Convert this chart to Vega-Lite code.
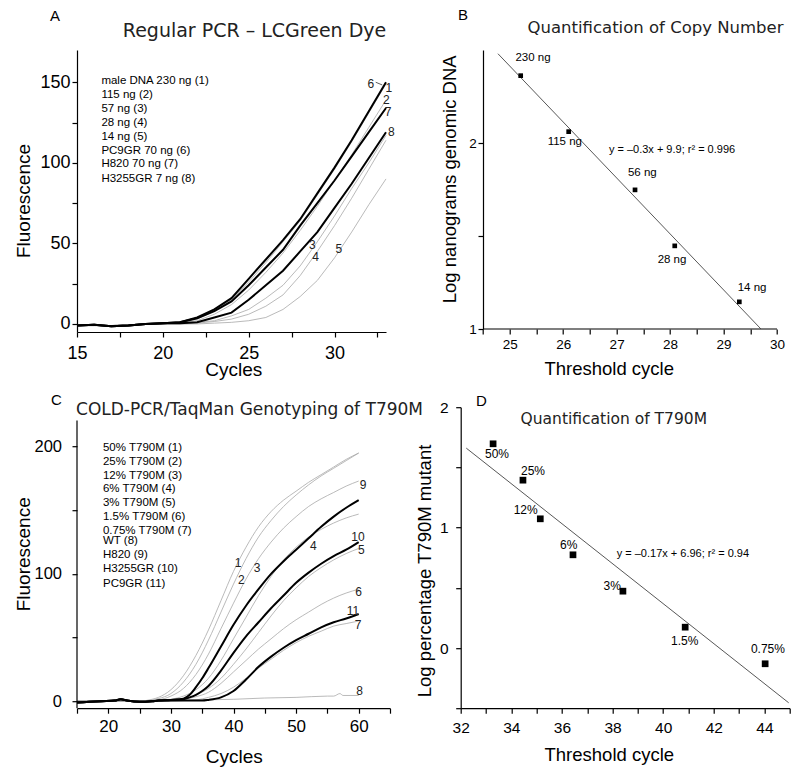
{
"$schema": "https://vega.github.io/schema/vega-lite/v6.json",
"background": "white",
"padding": {"left": 14, "top": 8, "right": 4, "bottom": 4},
"config": {
  "view": {"stroke": null},
  "font": "Liberation Sans",
  "axis": {"grid": false, "domainColor": "#000", "domainWidth": 1.2, "tickColor": "#000", "tickWidth": 1.2, "tickSize": 5, "labelColor": "#000", "titleColor": "#000", "labelFont": "Liberation Sans", "titleFont": "Liberation Sans", "titleFontWeight": "normal", "labelOverlap": false, "labelFlush": false, "titleBaseline": "alphabetic", "titleAlign": "center"},
  "text": {"font": "Liberation Sans", "color": "#000"}
},
"datasets": {
  "a_bold": [
    {"s":"6","x":15,"y":-1},{"s":"6","x":16,"y":-0.5},{"s":"6","x":17,"y":-1.5},{"s":"6","x":18,"y":-1},{"s":"6","x":19,"y":0},{"s":"6","x":20,"y":0.5},{"s":"6","x":21,"y":1},{"s":"6","x":22,"y":4},{"s":"6","x":23,"y":9},{"s":"6","x":24,"y":16},{"s":"6","x":25,"y":28},{"s":"6","x":26,"y":40},{"s":"6","x":27,"y":52},{"s":"6","x":28,"y":65},{"s":"6","x":29,"y":81},{"s":"6","x":30,"y":97},{"s":"6","x":31,"y":114},{"s":"6","x":32,"y":132},{"s":"6","x":33,"y":150},
    {"s":"7","x":15,"y":-1},{"s":"7","x":16,"y":-0.5},{"s":"7","x":17,"y":-1.5},{"s":"7","x":18,"y":-1},{"s":"7","x":19,"y":0},{"s":"7","x":20,"y":0.5},{"s":"7","x":21,"y":1},{"s":"7","x":22,"y":3.5},{"s":"7","x":23,"y":8},{"s":"7","x":24,"y":14},{"s":"7","x":25,"y":24},{"s":"7","x":26,"y":35},{"s":"7","x":27,"y":46},{"s":"7","x":28,"y":61},{"s":"7","x":29,"y":75},{"s":"7","x":30,"y":89},{"s":"7","x":31,"y":104},{"s":"7","x":32,"y":119},{"s":"7","x":33,"y":134},
    {"s":"8","x":15,"y":-1},{"s":"8","x":16,"y":-0.5},{"s":"8","x":17,"y":-1.5},{"s":"8","x":18,"y":-1},{"s":"8","x":19,"y":0},{"s":"8","x":20,"y":0.5},{"s":"8","x":21,"y":0.5},{"s":"8","x":22,"y":1},{"s":"8","x":23,"y":4},{"s":"8","x":24,"y":7},{"s":"8","x":25,"y":15},{"s":"8","x":26,"y":24},{"s":"8","x":27,"y":33},{"s":"8","x":28,"y":45},{"s":"8","x":29,"y":57},{"s":"8","x":30,"y":72},{"s":"8","x":31,"y":87},{"s":"8","x":32,"y":103},{"s":"8","x":33,"y":119}
  ],
  "a_thin": [
    {"s":"1","x":15,"y":-1},{"s":"1","x":16,"y":-1},{"s":"1","x":17,"y":-1},{"s":"1","x":18,"y":-0.5},{"s":"1","x":19,"y":0},{"s":"1","x":20,"y":0.5},{"s":"1","x":21,"y":1},{"s":"1","x":22,"y":3},{"s":"1","x":23,"y":8},{"s":"1","x":24,"y":15},{"s":"1","x":25,"y":26},{"s":"1","x":26,"y":38},{"s":"1","x":27,"y":51},{"s":"1","x":28,"y":64},{"s":"1","x":29,"y":80},{"s":"1","x":30,"y":96},{"s":"1","x":31,"y":113},{"s":"1","x":32,"y":131},{"s":"1","x":33,"y":149},
    {"s":"2","x":15,"y":-1},{"s":"2","x":16,"y":-1},{"s":"2","x":17,"y":-1},{"s":"2","x":18,"y":-0.5},{"s":"2","x":19,"y":0},{"s":"2","x":20,"y":0.5},{"s":"2","x":21,"y":1},{"s":"2","x":22,"y":2},{"s":"2","x":23,"y":6},{"s":"2","x":24,"y":12},{"s":"2","x":25,"y":21},{"s":"2","x":26,"y":32},{"s":"2","x":27,"y":44},{"s":"2","x":28,"y":58},{"s":"2","x":29,"y":73},{"s":"2","x":30,"y":89},{"s":"2","x":31,"y":105},{"s":"2","x":32,"y":122},{"s":"2","x":33,"y":139},
    {"s":"3","x":15,"y":-1},{"s":"3","x":16,"y":-1},{"s":"3","x":17,"y":-1},{"s":"3","x":18,"y":-0.5},{"s":"3","x":19,"y":0},{"s":"3","x":20,"y":0},{"s":"3","x":21,"y":0.5},{"s":"3","x":22,"y":1},{"s":"3","x":23,"y":2},{"s":"3","x":24,"y":5},{"s":"3","x":25,"y":9},{"s":"3","x":26,"y":16},{"s":"3","x":27,"y":24},{"s":"3","x":28,"y":36},{"s":"3","x":29,"y":51},{"s":"3","x":30,"y":67},{"s":"3","x":31,"y":84},{"s":"3","x":32,"y":100},{"s":"3","x":33,"y":117},
    {"s":"4","x":15,"y":-1},{"s":"4","x":16,"y":-1},{"s":"4","x":17,"y":-1},{"s":"4","x":18,"y":-0.5},{"s":"4","x":19,"y":0},{"s":"4","x":20,"y":0},{"s":"4","x":21,"y":0},{"s":"4","x":22,"y":0.5},{"s":"4","x":23,"y":1.5},{"s":"4","x":24,"y":3},{"s":"4","x":25,"y":6},{"s":"4","x":26,"y":11},{"s":"4","x":27,"y":18},{"s":"4","x":28,"y":30},{"s":"4","x":29,"y":45},{"s":"4","x":30,"y":61},{"s":"4","x":31,"y":78},{"s":"4","x":32,"y":96},{"s":"4","x":33,"y":114},
    {"s":"5","x":15,"y":-1},{"s":"5","x":16,"y":-1},{"s":"5","x":17,"y":-1},{"s":"5","x":18,"y":-0.5},{"s":"5","x":19,"y":0},{"s":"5","x":20,"y":0},{"s":"5","x":21,"y":0},{"s":"5","x":22,"y":0},{"s":"5","x":23,"y":0.5},{"s":"5","x":24,"y":1},{"s":"5","x":25,"y":2},{"s":"5","x":26,"y":4},{"s":"5","x":27,"y":9},{"s":"5","x":28,"y":17},{"s":"5","x":29,"y":27},{"s":"5","x":30,"y":41},{"s":"5","x":31,"y":57},{"s":"5","x":32,"y":74},{"s":"5","x":33,"y":90}
  ],
  "a_lead": [{"x":32.4,"y":150,"x2":32.78,"y2":148.3}],
  "a_lab": [
    {"x":32.11,"y":149.0,"t":"6"},{"x":33.16,"y":146.5,"t":"1"},{"x":33.02,"y":138.7,"t":"2"},{"x":33.12,"y":131.4,"t":"7"},{"x":33.31,"y":119.0,"t":"8"},{"x":28.71,"y":49.1,"t":"3"},{"x":28.9,"y":41.4,"t":"4"},{"x":30.26,"y":46.6,"t":"5"}
  ],
  "a_leg": [
    {"x":16.42,"y":150.6,"t":"male DNA 230 ng (1)"},{"x":16.42,"y":142.2,"t":"115 ng (2)"},{"x":16.42,"y":133.5,"t":"57 ng (3)"},{"x":16.42,"y":124.8,"t":"28 ng (4)"},{"x":16.42,"y":115.9,"t":"14 ng (5)"},{"x":16.42,"y":107.6,"t":"PC9GR 70 ng (6)"},{"x":16.42,"y":99.0,"t":"H820 70 ng (7)"},{"x":16.42,"y":90.1,"t":"H3255GR 7 ng (8)"}
  ],
  "a_title": [{"x":25.34,"y":177.8,"t":"Regular PCR – LCGreen Dye"}],
  "a_letter": [{"x":13.43,"y":188.3,"t":"A"}],
  "b_axis": [{"x":24.5,"x2":30,"y":1}],
  "b_fit": [{"x":24.78,"y":2.48},{"x":29.7,"y":1.0}],
  "b_pts": [{"x":25.205,"y":2.362},{"x":26.103,"y":2.061},{"x":27.344,"y":1.748},{"x":28.087,"y":1.447},{"x":29.295,"y":1.146}],
  "b_lab": [{"x":25.435,"y":2.458,"t":"230 ng"},{"x":26.03,"y":2.004,"t":"115 ng"},{"x":27.48,"y":1.838,"t":"56 ng"},{"x":28.036,"y":1.372,"t":"28 ng"},{"x":29.533,"y":1.222,"t":"14 ng"}],
  "b_eq": [{"x":28.036,"y":1.965,"t":"y = –0.3x + 9.9; r² = 0.996"}],
  "b_title": [{"x":27.727,"y":2.589,"t":"Quantification of Copy Number"}],
  "b_letter": [{"x":24.032,"y":2.659,"t":"B"}],
  "c_bold": [
    {"s":"9","x":15,"y":-1},{"s":"9","x":17,"y":-0.5},{"s":"9","x":19,"y":0},{"s":"9","x":21,"y":0.5},{"s":"9","x":22,"y":1.5},{"s":"9","x":23,"y":0.5},{"s":"9","x":25,"y":-0.5},{"s":"9","x":27,"y":0},{"s":"9","x":28,"y":0.5},{"s":"9","x":30,"y":1},{"s":"9","x":31,"y":1.5},{"s":"9","x":32,"y":2},{"s":"9","x":33,"y":5},{"s":"9","x":34,"y":11},{"s":"9","x":35,"y":18},{"s":"9","x":36,"y":26},{"s":"9","x":38,"y":43},{"s":"9","x":40,"y":60},{"s":"9","x":42,"y":75},{"s":"9","x":44,"y":88},{"s":"9","x":46,"y":100},{"s":"9","x":48,"y":110},{"s":"9","x":50,"y":119},{"s":"9","x":52,"y":128},{"s":"9","x":54,"y":137},{"s":"9","x":56,"y":145},{"s":"9","x":58,"y":152},{"s":"9","x":60,"y":158},
    {"s":"10","x":15,"y":-1},{"s":"10","x":17,"y":-0.5},{"s":"10","x":19,"y":0},{"s":"10","x":21,"y":0.5},{"s":"10","x":22,"y":1.5},{"s":"10","x":23,"y":0.5},{"s":"10","x":25,"y":-0.5},{"s":"10","x":27,"y":0},{"s":"10","x":28,"y":0.5},{"s":"10","x":30,"y":1},{"s":"10","x":31,"y":1},{"s":"10","x":32,"y":1.5},{"s":"10","x":33,"y":3},{"s":"10","x":34,"y":5},{"s":"10","x":35,"y":8},{"s":"10","x":36,"y":12},{"s":"10","x":38,"y":24},{"s":"10","x":40,"y":38},{"s":"10","x":42,"y":51},{"s":"10","x":44,"y":62},{"s":"10","x":46,"y":73},{"s":"10","x":48,"y":83},{"s":"10","x":50,"y":93},{"s":"10","x":52,"y":101},{"s":"10","x":54,"y":108},{"s":"10","x":56,"y":114},{"s":"10","x":58,"y":119},{"s":"10","x":60,"y":125},
    {"s":"11","x":15,"y":-1},{"s":"11","x":17,"y":-0.5},{"s":"11","x":19,"y":0},{"s":"11","x":21,"y":0.5},{"s":"11","x":22,"y":1.5},{"s":"11","x":23,"y":0.5},{"s":"11","x":25,"y":-0.5},{"s":"11","x":27,"y":0},{"s":"11","x":28,"y":0.5},{"s":"11","x":30,"y":0.5},{"s":"11","x":31,"y":0.5},{"s":"11","x":32,"y":0.5},{"s":"11","x":33,"y":0.5},{"s":"11","x":34,"y":0.5},{"s":"11","x":35,"y":0.5},{"s":"11","x":36,"y":1},{"s":"11","x":38,"y":3},{"s":"11","x":40,"y":8},{"s":"11","x":42,"y":17},{"s":"11","x":44,"y":27},{"s":"11","x":46,"y":35},{"s":"11","x":48,"y":42},{"s":"11","x":50,"y":48},{"s":"11","x":52,"y":53},{"s":"11","x":54,"y":58},{"s":"11","x":56,"y":62},{"s":"11","x":58,"y":65},{"s":"11","x":60,"y":68.5}
  ],
  "c_thin": [
    {"s":"1","x":15,"y":0},{"s":"1","x":20,"y":0},{"s":"1","x":25,"y":0},{"s":"1","x":26,"y":0.5},{"s":"1","x":27,"y":1.5},{"s":"1","x":28,"y":3},{"s":"1","x":30,"y":9},{"s":"1","x":32,"y":20},{"s":"1","x":34,"y":36},{"s":"1","x":36,"y":56},{"s":"1","x":38,"y":79},{"s":"1","x":40,"y":102},{"s":"1","x":42,"y":121},{"s":"1","x":44,"y":137},{"s":"1","x":46,"y":149},{"s":"1","x":48,"y":158},{"s":"1","x":50,"y":165},{"s":"1","x":52,"y":172},{"s":"1","x":54,"y":178},{"s":"1","x":56,"y":184},{"s":"1","x":58,"y":190},{"s":"1","x":60,"y":195},
    {"s":"2","x":15,"y":0},{"s":"2","x":20,"y":0},{"s":"2","x":25,"y":0},{"s":"2","x":26,"y":0},{"s":"2","x":27,"y":1},{"s":"2","x":28,"y":2},{"s":"2","x":30,"y":6},{"s":"2","x":32,"y":15},{"s":"2","x":34,"y":29},{"s":"2","x":36,"y":48},{"s":"2","x":38,"y":70},{"s":"2","x":40,"y":92},{"s":"2","x":42,"y":112},{"s":"2","x":44,"y":129},{"s":"2","x":46,"y":142},{"s":"2","x":48,"y":153},{"s":"2","x":50,"y":162},{"s":"2","x":52,"y":170},{"s":"2","x":54,"y":177},{"s":"2","x":56,"y":183},{"s":"2","x":58,"y":189},{"s":"2","x":60,"y":195},
    {"s":"3","x":15,"y":0},{"s":"3","x":20,"y":0},{"s":"3","x":25,"y":0},{"s":"3","x":26,"y":0},{"s":"3","x":27,"y":0.5},{"s":"3","x":28,"y":1},{"s":"3","x":30,"y":4},{"s":"3","x":32,"y":10},{"s":"3","x":34,"y":21},{"s":"3","x":36,"y":37},{"s":"3","x":38,"y":57},{"s":"3","x":40,"y":77},{"s":"3","x":42,"y":96},{"s":"3","x":44,"y":112},{"s":"3","x":46,"y":125},{"s":"3","x":48,"y":136},{"s":"3","x":50,"y":145},{"s":"3","x":52,"y":153},{"s":"3","x":54,"y":159},{"s":"3","x":56,"y":164},{"s":"3","x":58,"y":169},{"s":"3","x":60,"y":173},
    {"s":"4","x":15,"y":0},{"s":"4","x":20,"y":0},{"s":"4","x":25,"y":0},{"s":"4","x":26,"y":0},{"s":"4","x":27,"y":0},{"s":"4","x":28,"y":0.5},{"s":"4","x":30,"y":1.5},{"s":"4","x":32,"y":4},{"s":"4","x":34,"y":9},{"s":"4","x":36,"y":18},{"s":"4","x":38,"y":32},{"s":"4","x":40,"y":49},{"s":"4","x":42,"y":66},{"s":"4","x":44,"y":83},{"s":"4","x":46,"y":98},{"s":"4","x":48,"y":111},{"s":"4","x":50,"y":121},{"s":"4","x":52,"y":129},{"s":"4","x":54,"y":135},{"s":"4","x":56,"y":140},{"s":"4","x":58,"y":144},{"s":"4","x":60,"y":147},
    {"s":"5","x":15,"y":0},{"s":"5","x":20,"y":0},{"s":"5","x":25,"y":0},{"s":"5","x":26,"y":0},{"s":"5","x":27,"y":0},{"s":"5","x":28,"y":0},{"s":"5","x":30,"y":1},{"s":"5","x":32,"y":2},{"s":"5","x":34,"y":5},{"s":"5","x":36,"y":10},{"s":"5","x":38,"y":18},{"s":"5","x":40,"y":29},{"s":"5","x":42,"y":41},{"s":"5","x":44,"y":54},{"s":"5","x":46,"y":67},{"s":"5","x":48,"y":79},{"s":"5","x":50,"y":89},{"s":"5","x":52,"y":98},{"s":"5","x":54,"y":105},{"s":"5","x":56,"y":111},{"s":"5","x":58,"y":116},{"s":"5","x":60,"y":120},
    {"s":"6","x":15,"y":0},{"s":"6","x":20,"y":0},{"s":"6","x":25,"y":0},{"s":"6","x":26,"y":0},{"s":"6","x":27,"y":0},{"s":"6","x":28,"y":0},{"s":"6","x":30,"y":0.5},{"s":"6","x":32,"y":1.5},{"s":"6","x":34,"y":3.5},{"s":"6","x":36,"y":7},{"s":"6","x":38,"y":14},{"s":"6","x":40,"y":23},{"s":"6","x":42,"y":32},{"s":"6","x":44,"y":41},{"s":"6","x":46,"y":49},{"s":"6","x":48,"y":57},{"s":"6","x":50,"y":64},{"s":"6","x":52,"y":70},{"s":"6","x":54,"y":76},{"s":"6","x":56,"y":81},{"s":"6","x":58,"y":85},{"s":"6","x":60,"y":88},
    {"s":"7","x":15,"y":0},{"s":"7","x":20,"y":0},{"s":"7","x":25,"y":0},{"s":"7","x":26,"y":0},{"s":"7","x":27,"y":0},{"s":"7","x":28,"y":0},{"s":"7","x":30,"y":0},{"s":"7","x":32,"y":0.5},{"s":"7","x":34,"y":1},{"s":"7","x":36,"y":3},{"s":"7","x":38,"y":6},{"s":"7","x":40,"y":11},{"s":"7","x":42,"y":18},{"s":"7","x":44,"y":26},{"s":"7","x":46,"y":33},{"s":"7","x":48,"y":40},{"s":"7","x":50,"y":46},{"s":"7","x":52,"y":51},{"s":"7","x":54,"y":55},{"s":"7","x":56,"y":59},{"s":"7","x":58,"y":61},{"s":"7","x":60,"y":63},
    {"s":"8","x":15,"y":0},{"s":"8","x":30,"y":0.5},{"s":"8","x":35,"y":1},{"s":"8","x":40,"y":1.5},{"s":"8","x":45,"y":2.5},{"s":"8","x":50,"y":3},{"s":"8","x":55,"y":4},{"s":"8","x":56,"y":4},{"s":"8","x":57,"y":6},{"s":"8","x":57.5,"y":4.5},{"s":"8","x":60,"y":4.5}
  ],
  "c_axis": [{"x":15,"y":-5.5,"y2":220.5}],
  "c_lab": [
    {"x":40.72,"y":108.7,"t":"1"},{"x":41.25,"y":95,"t":"2"},{"x":43.75,"y":105,"t":"3"},{"x":52.75,"y":122,"t":"4"},{"x":60.69,"y":169.5,"t":"9"},{"x":59.89,"y":129,"t":"10"},{"x":60.42,"y":119,"t":"5"},{"x":60.0,"y":85.6,"t":"6"},{"x":59.09,"y":70.5,"t":"11"},{"x":59.89,"y":59.5,"t":"7"},{"x":60.16,"y":8.4,"t":"8"}
  ],
  "c_leg": [
    {"x":19.15,"y":199.1,"t":"50% T790M (1)"},{"x":19.15,"y":188.1,"t":"25% T790M (2)"},{"x":19.15,"y":177.3,"t":"12% T790M (3)"},{"x":19.15,"y":166.9,"t":"6% T790M (4)"},{"x":19.15,"y":155.9,"t":"3% T790M (5)"},{"x":19.15,"y":145.1,"t":"1.5% T790M (6)"},{"x":19.15,"y":134.1,"t":"0.75% T790M (7)"},{"x":19.15,"y":125.7,"t":"WT (8)"},{"x":19.15,"y":114.5,"t":"H820 (9)"},{"x":19.15,"y":103.5,"t":"H3255GR (10)"},{"x":19.15,"y":92.2,"t":"PC9GR (11)"}
  ],
  "c_title": [{"x":42.56,"y":224.5,"t":"COLD-PCR/TaqMan Genotyping of T790M"}],
  "c_letter": [{"x":10.85,"y":233.1,"t":"C"}],
  "d_fit": [{"x":32.22,"y":1.66},{"x":44.96,"y":-0.455}],
  "d_pts": [{"x":33.28,"y":1.696},{"x":34.46,"y":1.394},{"x":35.145,"y":1.073},{"x":36.437,"y":0.774},{"x":38.41,"y":0.472},{"x":40.87,"y":0.173},{"x":44.03,"y":-0.131}],
  "d_lab": [{"x":33.434,"y":1.613,"t":"50%"},{"x":34.857,"y":1.474,"t":"25%"},{"x":34.568,"y":1.15,"t":"12%"},{"x":36.267,"y":0.857,"t":"6%"},{"x":37.99,"y":0.511,"t":"3%"},{"x":40.85,"y":0.057,"t":"1.5%"},{"x":44.14,"y":-0.006,"t":"0.75%"}],
  "d_eq": [{"x":40.78,"y":0.782,"t":"y = –0.17x + 6.96; r² = 0.94"}],
  "d_title": [{"x":38.05,"y":1.862,"t":"Quantification of T790M"}],
  "d_letter": [{"x":32.6,"y":2.014,"t":"D"}]
},
"columns": 2,
"align": "all",
"bounds": "flush",
"spacing": {"row": 56.2, "column": 54.7},
"concat": [
  {
    "width": 309, "height": 282,
    "encoding": {
      "x": {"field": "x", "type": "quantitative", "scale": {"domain": [15, 33], "nice": false, "zero": false},
        "axis": {"title": "Cycles", "values": [15,17.5,20,22.5,25,27.5,30,32.5], "labelExpr": "datum.value % 5 === 0 ? '' + datum.value : ''", "labelFontSize": 18, "labelPadding": 7, "titleFontSize": 19, "titleX": 156.3, "titleY": 43.5}},
      "y": {"field": "y", "type": "quantitative", "scale": {"domain": [-5, 170], "nice": false, "zero": false},
        "axis": {"title": "Fluorescence", "values": [0,25,50,75,100,125,150], "labelExpr": "datum.value % 50 === 0 ? '' + datum.value : ''", "labelFontSize": 18, "labelPadding": 2, "titleFontSize": 19, "titleX": -47.3, "titleY": 150.5}}
    },
    "layer": [
      {"data": {"name": "a_thin"}, "mark": {"type": "line", "color": "#a8a8a8", "strokeWidth": 0.8}, "encoding": {"detail": {"field": "s"}}},
      {"data": {"name": "a_bold"}, "mark": {"type": "line", "color": "#000", "strokeWidth": 2}, "encoding": {"detail": {"field": "s"}}},
      {"data": {"name": "a_lead"}, "mark": {"type": "rule", "color": "#333", "strokeWidth": 0.8}, "encoding": {"x2": {"field": "x2"}, "y2": {"field": "y2"}}},
      {"data": {"name": "a_lab"}, "mark": {"type": "text", "fontSize": 12, "align": "center", "baseline": "middle", "color": "#222"}, "encoding": {"text": {"field": "t"}}},
      {"data": {"name": "a_leg"}, "mark": {"type": "text", "fontSize": 11.5, "align": "left", "baseline": "middle"}, "encoding": {"text": {"field": "t"}}},
      {"data": {"name": "a_title"}, "mark": {"type": "text", "font": "DejaVu Sans", "fontSize": 19, "align": "center", "baseline": "alphabetic", "color": "#222"}, "encoding": {"text": {"field": "t"}}},
      {"data": {"name": "a_letter"}, "mark": {"type": "text", "fontSize": 15, "align": "left", "baseline": "alphabetic"}, "encoding": {"text": {"field": "t"}}}
    ]
  },
  {
    "width": 316.3, "height": 279,
    "encoding": {
      "x": {"field": "x", "type": "quantitative", "scale": {"domain": [24.0828, 30], "nice": false, "zero": false},
        "axis": {"title": "Threshold cycle", "domain": false, "values": [24.5,25,25.5,26,26.5,27,27.5,28,28.5,29,29.5,30], "labelExpr": "datum.value % 1 === 0 ? '' + datum.value : ''", "labelFontSize": 13.5, "labelPadding": 3.5, "titleFontSize": 18.5, "titleX": 148, "titleY": 45.5}},
      "y": {"field": "y", "type": "quantitative", "scale": {"domain": [1, 2.5], "nice": false, "zero": false},
        "axis": {"title": "Log nanograms genomic DNA", "offset": -22.3, "values": [1,1.5,2], "labelExpr": "datum.value % 1 === 0 ? '' + datum.value : ''", "labelFontSize": 13.5, "labelPadding": 1.7, "titleFontSize": 18.5, "titleX": -27.2, "titleY": 128.8}}
    },
    "layer": [
      {"data": {"name": "b_axis"}, "mark": {"type": "rule", "color": "#000", "strokeWidth": 1.2}, "encoding": {"x2": {"field": "x2"}}},
      {"data": {"name": "b_fit"}, "mark": {"type": "line", "color": "#444", "strokeWidth": 0.9}},
      {"data": {"name": "b_pts"}, "mark": {"type": "square", "color": "#000", "filled": true, "size": 22, "opacity": 1}},
      {"data": {"name": "b_lab"}, "mark": {"type": "text", "fontSize": 11.5, "align": "center", "baseline": "middle"}, "encoding": {"text": {"field": "t"}}},
      {"data": {"name": "b_eq"}, "mark": {"type": "text", "fontSize": 11, "align": "center", "baseline": "middle"}, "encoding": {"text": {"field": "t"}}},
      {"data": {"name": "b_title"}, "mark": {"type": "text", "font": "DejaVu Sans", "fontSize": 16.5, "align": "center", "baseline": "alphabetic", "color": "#222"}, "encoding": {"text": {"field": "t"}}},
      {"data": {"name": "b_letter"}, "mark": {"type": "text", "fontSize": 15, "align": "left", "baseline": "alphabetic"}, "encoding": {"text": {"field": "t"}}}
    ]
  },
  {
    "width": 313, "height": 301,
    "encoding": {
      "x": {"field": "x", "type": "quantitative", "scale": {"domain": [15, 65], "nice": false, "zero": false},
        "axis": {"title": "Cycles", "values": [15,20,25,30,35,40,45,50,55,60,65], "labelExpr": "datum.value % 10 === 0 && datum.value >= 20 && datum.value <= 60 ? '' + datum.value : ''", "labelFontSize": 17, "labelPadding": 5, "titleFontSize": 19, "titleX": 156.8, "titleY": 54}},
      "y": {"field": "y", "type": "quantitative", "scale": {"domain": [-5.5, 231], "nice": false, "zero": false},
        "axis": {"title": "Fluorescence", "domain": false, "values": [0,50,100,150,200], "labelExpr": "datum.value % 100 === 0 ? '' + datum.value : ''", "labelFontSize": 16.5, "labelPadding": 10.5, "titleFontSize": 19, "titleX": -47.3, "titleY": 146.6}}
    },
    "layer": [
      {"data": {"name": "c_thin"}, "mark": {"type": "line", "color": "#a8a8a8", "strokeWidth": 0.8, "interpolate": "monotone"}, "encoding": {"detail": {"field": "s"}}},
      {"data": {"name": "c_bold"}, "mark": {"type": "line", "color": "#000", "strokeWidth": 2, "interpolate": "monotone"}, "encoding": {"detail": {"field": "s"}}},
      {"data": {"name": "c_axis"}, "mark": {"type": "rule", "color": "#000", "strokeWidth": 1.2}, "encoding": {"y2": {"field": "y2"}}},
      {"data": {"name": "c_lab"}, "mark": {"type": "text", "fontSize": 12, "align": "center", "baseline": "middle", "color": "#222"}, "encoding": {"text": {"field": "t"}}},
      {"data": {"name": "c_leg"}, "mark": {"type": "text", "fontSize": 11.5, "align": "left", "baseline": "middle"}, "encoding": {"text": {"field": "t"}}},
      {"data": {"name": "c_title"}, "mark": {"type": "text", "font": "DejaVu Sans", "fontSize": 17, "align": "center", "baseline": "alphabetic", "color": "#222"}, "encoding": {"text": {"field": "t"}}},
      {"data": {"name": "c_letter"}, "mark": {"type": "text", "fontSize": 15, "align": "left", "baseline": "alphabetic"}, "encoding": {"text": {"field": "t"}}}
    ]
  },
  {
    "width": 329, "height": 301,
    "encoding": {
      "x": {"field": "x", "type": "quantitative", "scale": {"domain": [32, 45], "nice": false, "zero": false},
        "axis": {"title": "Threshold cycle", "values": [32,33,34,35,36,37,38,39,40,41,42,43,44,45], "labelExpr": "datum.value % 2 === 0 && datum.value <= 44 ? '' + datum.value : ''", "labelFontSize": 15.5, "labelPadding": 7.3, "titleFontSize": 18.5, "titleX": 148.1, "titleY": 52.3}},
      "y": {"field": "y", "type": "quantitative", "scale": {"domain": [-0.5, 2], "nice": false, "zero": false},
        "axis": {"title": "Log percentage T790M mutant", "values": [-0.5,0,0.5,1,1.5,2], "labelExpr": "datum.value % 1 === 0 ? '' + datum.value : ''", "labelFontSize": 15.5, "labelPadding": 7.7, "titleFontSize": 18.5, "titleX": -29.9, "titleY": 163.3}}
    },
    "layer": [
      {"data": {"name": "d_fit"}, "mark": {"type": "line", "color": "#444", "strokeWidth": 0.9}},
      {"data": {"name": "d_pts"}, "mark": {"type": "square", "color": "#000", "filled": true, "size": 45, "opacity": 1}},
      {"data": {"name": "d_lab"}, "mark": {"type": "text", "fontSize": 12, "align": "center", "baseline": "middle"}, "encoding": {"text": {"field": "t"}}},
      {"data": {"name": "d_eq"}, "mark": {"type": "text", "fontSize": 11, "align": "center", "baseline": "middle"}, "encoding": {"text": {"field": "t"}}},
      {"data": {"name": "d_title"}, "mark": {"type": "text", "font": "DejaVu Sans", "fontSize": 15.5, "align": "center", "baseline": "alphabetic", "color": "#222"}, "encoding": {"text": {"field": "t"}}},
      {"data": {"name": "d_letter"}, "mark": {"type": "text", "fontSize": 15, "align": "left", "baseline": "alphabetic"}, "encoding": {"text": {"field": "t"}}}
    ]
  }
]
}
